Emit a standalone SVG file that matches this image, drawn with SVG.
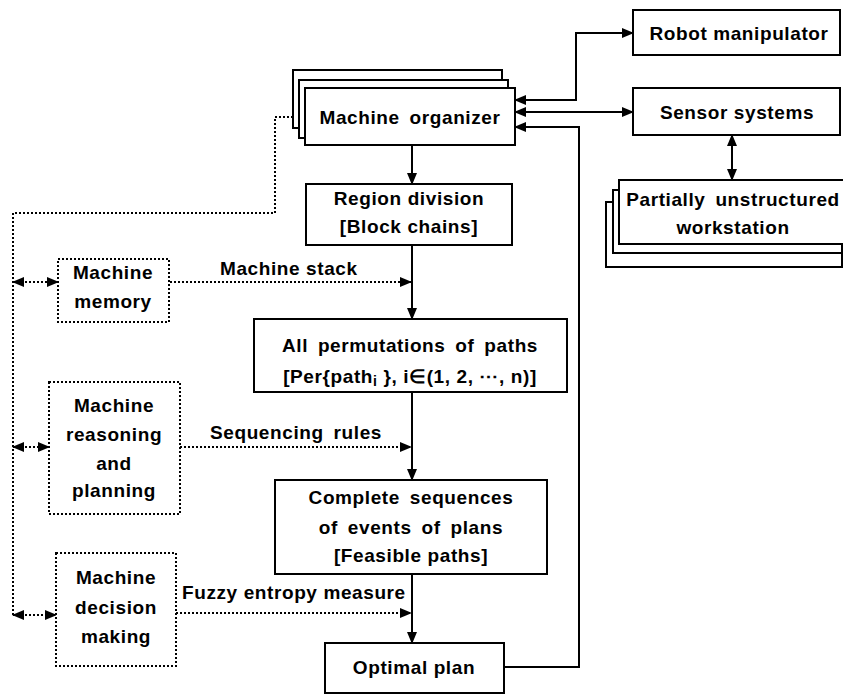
<svg xmlns="http://www.w3.org/2000/svg" width="843" height="695" viewBox="0 0 843 695">
<style>
.box{fill:#fff;stroke:#000;stroke-width:2}
.dbox{fill:#fff;stroke:#000;stroke-width:2;stroke-dasharray:2 2}
.t{font-family:"Liberation Sans",Arial,sans-serif;font-weight:bold;font-size:19px;letter-spacing:0.6px;text-anchor:middle;fill:#000}
.l{font-family:"Liberation Sans",Arial,sans-serif;font-weight:bold;font-size:19px;letter-spacing:0.6px;text-anchor:start;fill:#000}
.w{word-spacing:4px}
.s{fill:none;stroke:#000;stroke-width:2}
.d{fill:none;stroke:#000;stroke-width:2;stroke-dasharray:2 2}
</style>
<defs>
<marker id="ah" markerUnits="userSpaceOnUse" markerWidth="12" markerHeight="10" refX="11" refY="5" orient="auto-start-reverse" viewBox="0 0 12 10">
<path d="M0,0 L12,5 L0,10 z" fill="#000"/>
</marker>
</defs>
<rect width="843" height="695" fill="#fff"/>
<g id="connectors">
<polyline class="s" points="515,100 576,100 576,33 633,33" marker-start="url(#ah)" marker-end="url(#ah)"/>
<line class="s" x1="515" y1="112" x2="633" y2="112" marker-start="url(#ah)" marker-end="url(#ah)"/>
<polyline class="s" points="504,667 579,667 579,127 515,127" marker-end="url(#ah)"/>
<line class="s" x1="732" y1="135" x2="732" y2="180" marker-start="url(#ah)" marker-end="url(#ah)"/>
<line class="s" x1="412" y1="145" x2="412" y2="184" marker-end="url(#ah)"/>
<line class="s" x1="412" y1="245" x2="412" y2="319" marker-end="url(#ah)"/>
<line class="s" x1="412" y1="392" x2="412" y2="480" marker-end="url(#ah)"/>
<line class="s" x1="412" y1="574" x2="412" y2="643" marker-end="url(#ah)"/>
<line class="d" x1="170" y1="282" x2="411" y2="282" marker-end="url(#ah)"/>
<line class="d" x1="180" y1="447" x2="411" y2="447" marker-end="url(#ah)"/>
<line class="d" x1="176" y1="613" x2="411" y2="613" marker-end="url(#ah)"/>
<polyline class="d" points="293,117 275,117 275,213 13,213 13,615"/>
<line class="d" x1="13" y1="282" x2="58" y2="282" marker-start="url(#ah)" marker-end="url(#ah)"/>
<line class="d" x1="13" y1="447" x2="49" y2="447" marker-start="url(#ah)" marker-end="url(#ah)"/>
<line class="d" x1="13" y1="615" x2="56" y2="615" marker-start="url(#ah)" marker-end="url(#ah)"/>
<text class="l" x="220" y="275">Machine stack</text>
<text class="l w" x="210" y="439">Sequencing rules</text>
<text class="l" x="182" y="599">Fuzzy entropy measure</text>
</g>
<g id="machine-organizer">
<rect class="box" x="293" y="70" width="209" height="58"/>
<rect class="box" x="299" y="80" width="209" height="58"/>
<rect class="box" x="305" y="88" width="210" height="57"/>
<text class="t w" x="410" y="124">Machine organizer</text>
</g>
<g id="robot-manipulator">
<rect class="box" x="633" y="10" width="207" height="45"/>
<text class="t" x="739" y="40">Robot manipulator</text>
</g>
<g id="sensor-systems">
<rect class="box" x="633" y="88" width="207" height="47"/>
<text class="t" x="737" y="119">Sensor systems</text>
</g>
<g id="workstation">
<rect class="box" x="606" y="202" width="236" height="65"/>
<rect class="box" x="613" y="190" width="229" height="63"/>
<rect class="box" x="619" y="180" width="230" height="64"/>
<text class="t w" x="733" y="206">Partially unstructured</text>
<text class="t" x="733" y="234">workstation</text>
</g>
<g id="region-division">
<rect class="box" x="306" y="184" width="206" height="61"/>
<text class="t" x="409" y="205">Region division</text>
<text class="t" x="409" y="233">[Block chains]</text>
</g>
<g id="machine-memory">
<rect class="dbox" x="58" y="259" width="111" height="63"/>
<text class="t" x="113" y="279">Machine</text>
<text class="t" x="113" y="308">memory</text>
</g>
<g id="all-permutations">
<rect class="box" x="254" y="319" width="313" height="73"/>
<text class="t w" x="410" y="352">All permutations of paths</text>
<text class="t" x="410" y="383">[Per{path<tspan font-size="14" dy="3">i</tspan><tspan dy="-3"> }, i∈(1, 2, ⋯, n)]</tspan></text>
</g>
<g id="machine-reasoning">
<rect class="dbox" x="49" y="382" width="131" height="132"/>
<text class="t" x="114" y="412">Machine</text>
<text class="t" x="114" y="441">reasoning</text>
<text class="t" x="114" y="470">and</text>
<text class="t" x="114" y="497">planning</text>
</g>
<g id="complete-sequences">
<rect class="box" x="275" y="480" width="272" height="94"/>
<text class="t w" x="411" y="504">Complete sequences</text>
<text class="t w" x="411" y="534">of events of plans</text>
<text class="t" x="411" y="562">[Feasible paths]</text>
</g>
<g id="machine-decision">
<rect class="dbox" x="56" y="553" width="120" height="113"/>
<text class="t" x="116" y="584">Machine</text>
<text class="t" x="116" y="614">decision</text>
<text class="t" x="116" y="643">making</text>
</g>
<g id="optimal-plan">
<rect class="box" x="325" y="643" width="179" height="50"/>
<text class="t" x="414" y="674">Optimal plan</text>
</g>
</svg>
